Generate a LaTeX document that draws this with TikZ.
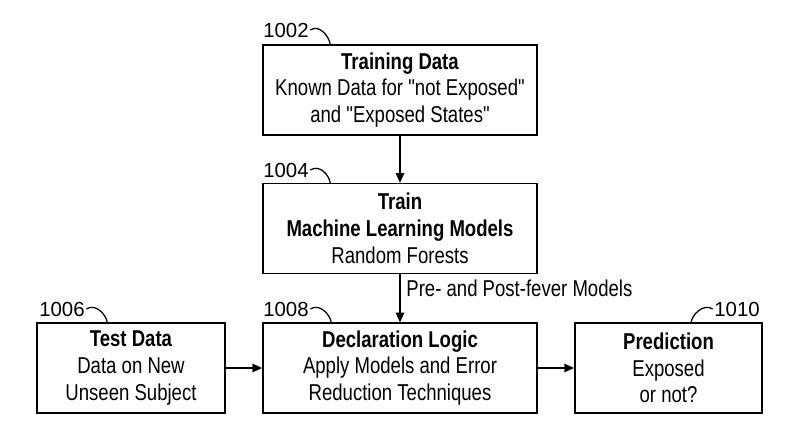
\documentclass[tikz,border=0pt]{standalone}
\usepackage{fontspec}
\setmainfont{Liberation Sans}[FakeStretch=0.81,Ligatures=TeXOff]
\newfontfamily\reffont{Liberation Sans}
\usetikzlibrary{arrows.meta,positioning,calc}

\begin{document}
\begin{tikzpicture}[x=0.025cm,y=-0.025cm,
  box/.style={draw,line width=1.1pt,minimum width=6.85cm,minimum height=2.24cm,font=\fontsize{16.3}{19}\selectfont,align=center,inner sep=2pt},
  ref/.style={font=\reffont\fontsize{14.5}{17}\selectfont,inner sep=1pt},
  lead/.style={line width=0.9pt},
  arr/.style={-{Triangle[length=7pt,width=6pt]},line width=1.1pt}]
  \useasboundingbox (0,0) rectangle (800,433);
  % Training path
  \node[box] (train) at (400,90) {\textbf{Training Data}\\Known Data for "not Exposed"\\and "Exposed States"};
  \node[box] (models) at (400,228.5) {\textbf{Train}\\\textbf{Machine Learning Models}\\Random Forests};
  \draw[arr] (train) -- (models);
  % Bottom row
  \node[box,minimum width=4.7cm] (test) at (131,368) {\textbf{Test Data}\\Data on New\\Unseen Subject};
  \node[box] (decl) at (400,368) {\textbf{Declaration Logic}\\Apply Models and Error\\Reduction Techniques};
  \node[box,minimum width=4.68cm] (pred) at (668.5,368) {\textbf{Prediction}\\Exposed\\or not?};
  \draw[arr] (models) -- node[right,pos=0.3,font=\fontsize{16.3}{19}\selectfont,inner sep=4pt] {Pre- and Post-fever Models} (decl);
  \draw[arr] (test) -- (decl);
  \draw[arr] (decl) -- (pred);
  % Reference numerals
  \node[ref] (n1002) at (286,30) {1002};
  \node[ref] (n1004) at (286,170) {1004};
  \node[ref] (n1006) at (62,309) {1006};
  \node[ref] (n1008) at (286,309) {1008};
  \node[ref] (n1010) at (737,309) {1010};
  \coordinate (c1002) at ($(train.north west)+(68,0)$);
  \coordinate (c1004) at ($(models.north west)+(68,0)$);
  \coordinate (c1006) at ($(test.north west)+(71,0)$);
  \coordinate (c1008) at ($(decl.north west)+(69,0)$);
  \coordinate (c1010) at ($(pred.north west)+(117,0)$);
  \draw[lead] (n1002.east) .. controls +(9,-6) and +(-1,-8) .. (c1002);
  \draw[lead] (n1004.east) .. controls +(9,-6) and +(-1,-8) .. (c1004);
  \draw[lead] (n1006.east) .. controls +(9,-6) and +(-1,-8) .. (c1006);
  \draw[lead] (n1008.east) .. controls +(9,-6) and +(-1,-8) .. (c1008);
  \draw[lead] (n1010.west) .. controls +(-9,-6) and +(1,-8) .. (c1010);
\end{tikzpicture}
\end{document}
